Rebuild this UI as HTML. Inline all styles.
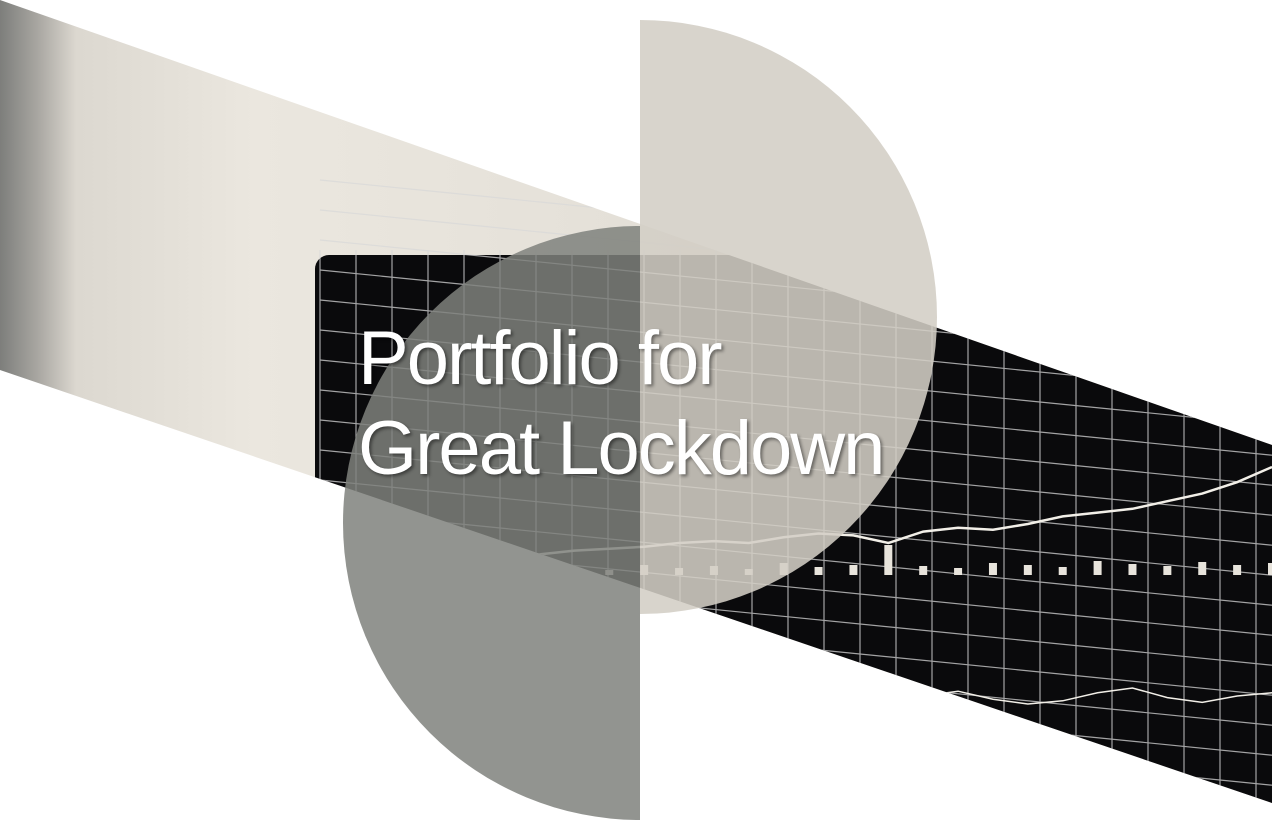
<!DOCTYPE html>
<html><head><meta charset="utf-8">
<style>
html,body{margin:0;padding:0;background:#fff;width:1272px;height:821px;overflow:hidden;}
#wrap{position:relative;width:1272px;height:821px;overflow:hidden;}
svg{position:absolute;left:0;top:0;display:block;}
.title{position:absolute;left:358px;top:314px;font-family:"Liberation Sans",sans-serif;font-size:76px;line-height:90px;color:#fff;text-shadow:2px 2px 3px rgba(0,0,0,0.45);letter-spacing:-2px;margin:0;font-weight:normal;white-space:nowrap;}
</style></head>
<body>
<div id="wrap">
<svg id="art" width="1272" height="821" viewBox="0 0 1272 821">
<defs>
<clipPath id="band"><polygon points="0,0 1272,445 1272,803 0,370"/></clipPath>
<linearGradient id="wall" x1="0" x2="1" y1="0" y2="0">
<stop offset="0" stop-color="#7d7e7b"/><stop offset="0.03" stop-color="#a9a7a2"/><stop offset="0.06" stop-color="#dcd8d0"/><stop offset="0.2" stop-color="#ebe7df"/><stop offset="0.5" stop-color="#e4e0d8"/><stop offset="1" stop-color="#dcd7ce"/>
</linearGradient>
</defs>
<g clip-path="url(#band)">
<rect x="0" y="0" width="1272" height="821" fill="url(#wall)"/>
<rect x="315" y="255" width="1000" height="600" rx="14" fill="#0a0a0c"/>
<g id="grid" stroke="#d8d8d8" stroke-width="1.2" opacity="0.75"></g>
<polyline id="priceLine" fill="none" stroke="#f2efe8" stroke-width="2.5"/>
<g id="bars" fill="#e8e4dc"></g>
<polyline id="oscLine" fill="none" stroke="#f2efe8" stroke-width="1.5"/>
</g>
<path d="M640,20 A297,297 0 0 1 640,614 Z" fill="#d3cec5" opacity="0.88"/>
<path d="M640,226 A297,297 0 0 0 640,820 Z" fill="#7f817c" opacity="0.85"/>
</svg>
<div class="title">Portfolio for<br>Great Lockdown</div>
</div>
<script>
const priceValues=[20,21,22,23,24,26,27,28,30,31,30,33,35,34,30,36,38,37,40,44,46,48,52,56,62,70];
const volumeValues=[6,8,5,7,9,6,5,10,7,9,6,12,8,10,30,9,7,12,10,8,14,11,9,13,10,12];
const oscValues=[5,8,12,10,6,4,9,14,12,7,5,8,11,9,6,10,13,8,5,7,12,15,9,6,10,12];
const svgNS='http://www.w3.org/2000/svg';
const x0=400,x1=1272;
function xs(i,n){return x0+(x1-x0)*i/(n-1);}
function yPrice(v){return 600-v*1.9;}
function yVol(v){return 575-v;}
function yOsc(v){return 712-v*1.6;}
const grid=document.getElementById('grid');
for(let gx=320;gx<1272;gx+=36){
 const l=document.createElementNS(svgNS,'line');
 l.setAttribute('x1',gx);l.setAttribute('x2',gx);l.setAttribute('y1',250);l.setAttribute('y2',821);
 
 
 grid.appendChild(l);
}
for(let k=-4;k<20;k++){
 const l=document.createElementNS(svgNS,'line');
 const y=300+k*30;
 l.setAttribute('x1',320);l.setAttribute('x2',1272);l.setAttribute('y1',y);l.setAttribute('y2',y+0.1*952);
 
 
 grid.appendChild(l);
}
document.getElementById('priceLine').setAttribute('points',priceValues.map((v,i)=>xs(i,priceValues.length)+','+yPrice(v)).join(' '));
const bars=document.getElementById('bars');
volumeValues.forEach((v,i)=>{
 const x=xs(i,volumeValues.length);
 const r=document.createElementNS(svgNS,'rect');
 r.setAttribute('x',x-4);r.setAttribute('width',8);
 r.setAttribute('y',yVol(v));r.setAttribute('height',v);
 
 
 bars.appendChild(r);
});
document.getElementById('oscLine').setAttribute('points',oscValues.map((v,i)=>xs(i,oscValues.length)+','+yOsc(v)).join(' '));
</script>
</body></html>
